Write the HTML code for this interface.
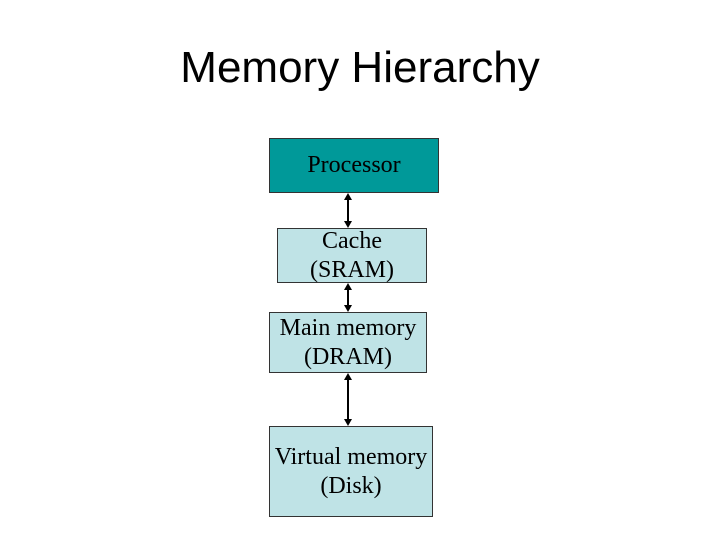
<!DOCTYPE html>
<html><head><style>
body{margin:0;width:720px;height:540px;background:#fff;position:relative;overflow:hidden;font-family:"Liberation Serif",serif}
.t{position:absolute;left:0;width:720px;top:42px;text-align:center;font-family:"Liberation Sans",sans-serif;font-size:44px;line-height:52px}
.b{position:absolute;border:1px solid #333;box-sizing:border-box;background:#bfe3e6;font-size:24px;line-height:29px;text-align:center;display:flex;align-items:center;justify-content:center;white-space:nowrap}
</style></head><body>
<div class="t">Memory Hierarchy</div>
<div class="b" style="left:269px;top:138px;width:170px;height:55px;background:#009999">Processor</div>
<div class="b" style="left:277px;top:228px;width:150px;height:55px">Cache<br>(SRAM)</div>
<div class="b" style="left:269px;top:312px;width:158px;height:61px">Main memory<br>(DRAM)</div>
<div class="b" style="left:269px;top:426px;width:164px;height:91px">Virtual memory<br>(Disk)</div>
<svg width="720" height="540" style="position:absolute;left:0;top:0">
<g stroke="#000" stroke-width="2" fill="#000">
<line x1="348" y1="196" x2="348" y2="225"/><line x1="348" y1="286" x2="348" y2="309"/><line x1="348" y1="376" x2="348" y2="423"/>
</g>
<g fill="#000">
<polygon points="348,193 344,200 352,200"/><polygon points="348,228 344,221 352,221"/>
<polygon points="348,283 344,290 352,290"/><polygon points="348,312 344,305 352,305"/>
<polygon points="348,373 344,380 352,380"/><polygon points="348,426 344,419 352,419"/>
</g></svg>
</body></html>
